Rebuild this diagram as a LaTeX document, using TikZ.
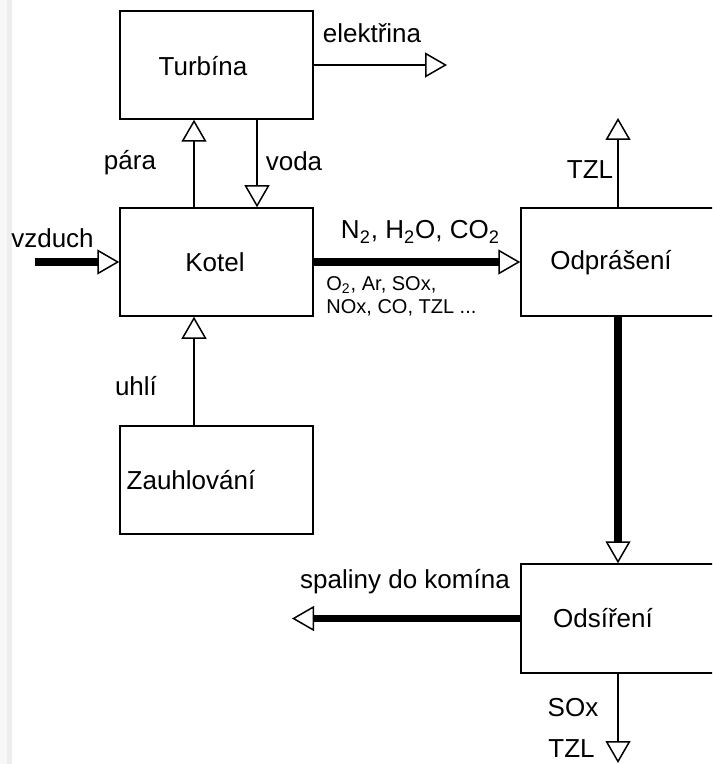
\documentclass[tikz,border=0pt]{standalone}
\usepackage{fontspec}
\setmainfont{Liberation Sans}
\usetikzlibrary{arrows.meta}

\begin{document}
\begin{tikzpicture}[x=0.5pt, y=-0.5pt,
		every node/.style={font=\fontsize{13}{15}\selectfont},
		box/.style={draw, line width=0.75pt, rectangle, inner sep=0pt, minimum width=96.5pt, minimum height=54pt},
		tip/.style={-{Triangle[open, length=11pt, width=12.5pt, line width=0.75pt]}},
		thin flow/.style={tip, line width=0.75pt},
		thick flow/.style={tip, line width=3.75pt}]
		\clip (0,0) rectangle (712,764);
		\fill [white] (0,0) rectangle (712,764);
		\fill [gray!6] (0,0) rectangle (7,764);
		\fill [gray!14] (7,0) rectangle (12,764);
		
		\coordinate (para) at (194,0);
		\coordinate (voda) at (257,0);
		\coordinate (elektrina end) at (447,65);
		\coordinate (vzduch start) at (35,262);
		\coordinate (tzl up) at (618,118);
		\coordinate (tzl down) at (618,763);
		\coordinate (komin) at (292,618.5);
		
		% boxes
		\node [box] (turbina) at (216.5,65) {};
		\node [box] (kotel) at (216.5,262) {};
		\node [box] (zauhlovani) at (216.5,480) {};
		\node [box, minimum width=119.5pt] (odpraseni) at (640.5,262) {};
		\node [box, minimum width=119.5pt, minimum height=54.5pt] (odsireni) at (640.5,618.5) {};
		
		\node (turbina text) at (203,66) {Turbína};
		\node (kotel text) at (215,262) {Kotel};
		\node (zauhlovani text) at (191,480) {Zauhlování};
		\node (odpraseni text) at (611,263) {Odprášení};
		\node (odsireni text) at (603,618) {Odsíření};
		
		% flows
		\draw [thin flow] (turbina.east) -- (elektrina end);
		\draw [thin flow] (kotel.north -| para) -- (turbina.south -| para);
		\draw [thin flow] (turbina.south -| voda) -- (kotel.north -| voda);
		\draw [thin flow] (zauhlovani.north -| para) -- (kotel.south -| para);
		\draw [thick flow] (vzduch start) -- (kotel.west);
		\draw [thick flow] (kotel.east) -- (odpraseni.west);
		\draw [thin flow] (odpraseni.north -| tzl up) -- (tzl up);
		\draw [thick flow] (odpraseni.south -| tzl up) -- (odsireni.north -| tzl up);
		\draw [thick flow] (odsireni.west) -- (komin);
		\draw [thin flow] (odsireni.south -| tzl down) -- (tzl down);
		
		% labels
		\node (elektrina label) at (372,33) {elektřina};
		\node (para label) at (130,163) {pára};
		\node (voda label) at (294,161) {voda};
		\node (vzduch label) at (52.5,238) {vzduch};
		\node (uhli label) at (136,386) {uhlí};
		\node (spaliny label) at (420.5,232) {N\textsubscript{2}, H\textsubscript{2}O, CO\textsubscript{2}};
		\node [anchor=west, align=left, inner sep=0pt, font=\fontsize{10}{11.5}\selectfont] (prymesi label) at (326,296.5) {O\textsubscript{2}, Ar, SOx,\\NOx, CO, TZL ...};
		\node (tzl up label) at (590,170) {TZL};
		\node (komin label) at (405,582) {spaliny do komína};
		\node (sox label) at (573,708) {SOx};
		\node (tzl down label) at (571.5,749) {TZL};
	\end{tikzpicture}
\end{document}
